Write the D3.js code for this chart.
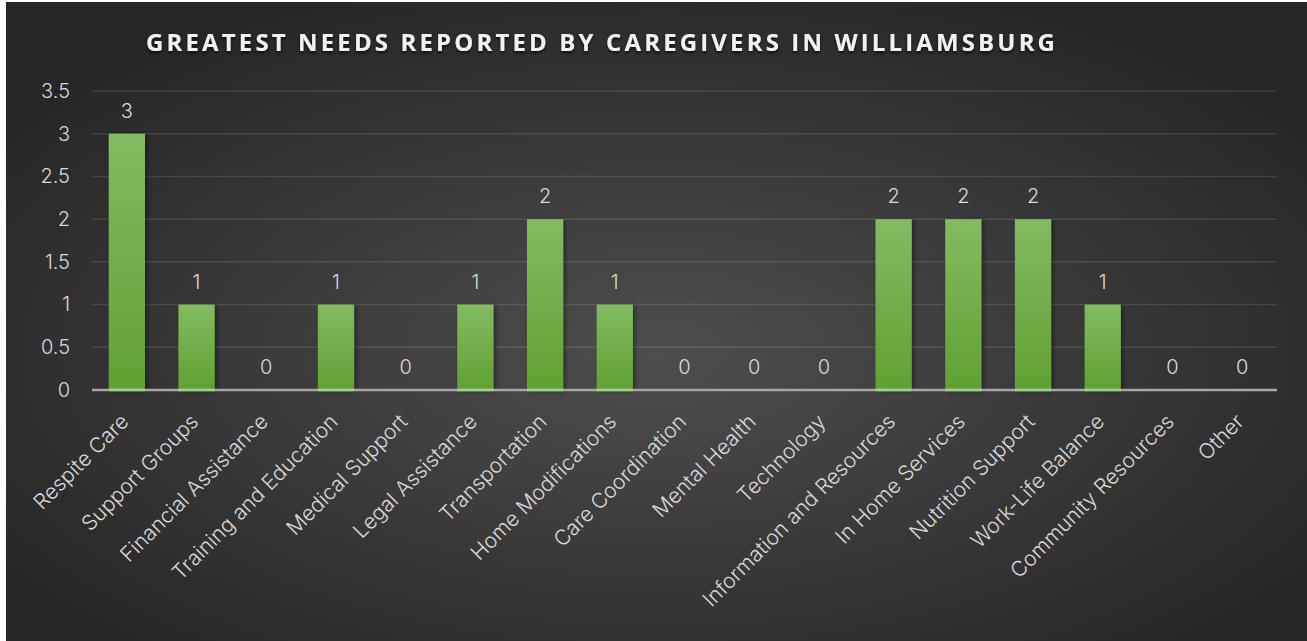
<!DOCTYPE html>
<html>
<head>
<meta charset="utf-8">
<script src="https://cdn.jsdelivr.net/npm/d3@7"></script>
<style>
  html, body { margin: 0; padding: 0; background: #fff; overflow: hidden; }
  svg { display: block; }
</style>
</head>
<body>
<script>
// data
const categories = ['Respite Care', 'Support Groups', 'Financial Assistance', 'Training and Education',
  'Medical Support', 'Legal Assistance', 'Transportation', 'Home Modifications', 'Care Coordination',
  'Mental Health', 'Technology', 'Information and Resources', 'In Home Services', 'Nutrition Support',
  'Work-Life Balance', 'Community Resources', 'Other']
const counts = [3, 1, 0, 1, 0, 1, 2, 1, 0, 0, 0, 2, 2, 2, 1, 0, 0]
const yTicks = [0, 0.5, 1, 1.5, 2, 2.5, 3, 3.5]
const title = 'GREATEST NEEDS REPORTED BY CAREGIVERS IN WILLIAMSBURG'

const dim = {width: 1307, height: 641}
const svg = d3.select('body').append('svg').attr('width', dim.width).attr('height', dim.height)

// chart box sits a little in from the left/top edge
const box = {x: 6, y: 2}
const margin = {top: 91, left: 92}
const plotW = 1277 - margin.left
const y0 = 390
const labelFont = 'Inter, Roboto, sans-serif'
const fs = 20

const defs = svg.append('defs')
const bg = defs.append('radialGradient').attr('id', 'bg')
  .attr('cx', '50%').attr('cy', '55%').attr('r', '62%')
bg.append('stop').attr('offset', '0%').attr('stop-color', '#4e4e4e')
bg.append('stop').attr('offset', '100%').attr('stop-color', '#262626')

const barGrad = defs.append('linearGradient').attr('id', 'barg')
  .attr('x1', 0).attr('y1', 0).attr('x2', 0).attr('y2', 1)
barGrad.append('stop').attr('offset', '0%').attr('stop-color', '#83bb61')
barGrad.append('stop').attr('offset', '100%').attr('stop-color', '#60a133')

const shadow = defs.append('filter').attr('id', 'shadow')
  .attr('x', '-30%').attr('y', '-10%').attr('width', '160%').attr('height', '130%')
shadow.append('feDropShadow').attr('dx', 2).attr('dy', 1).attr('stdDeviation', 2.5)
  .attr('flood-color', '#000').attr('flood-opacity', 0.45)

const tshadow = defs.append('filter').attr('id', 'tshadow')
  .attr('x', '-5%').attr('y', '-30%').attr('width', '110%').attr('height', '160%')
tshadow.append('feDropShadow').attr('dx', 0).attr('dy', 2).attr('stdDeviation', 1.8)
  .attr('flood-color', '#000').attr('flood-opacity', 0.7)

svg.append('rect').attr('x', box.x).attr('y', box.y)
  .attr('width', dim.width - box.x).attr('height', dim.height - box.y)
  .attr('fill', 'url(#bg)')

// title
svg.append('text')
  .attr('x', 146).attr('y', 51)
  .attr('textLength', 909).attr('lengthAdjust', 'spacing')
  .attr('font-family', 'Open Sans')
  .attr('font-weight', 700)
  .attr('font-size', 24)
  .attr('fill', '#f2f2f2')
  .attr('filter', 'url(#tshadow)')
  .text(title)

// scales
const x = d3.scaleBand().domain(categories).range([margin.left, margin.left + plotW])
  .paddingInner(0.48).paddingOuter(0.24)
const y = d3.scaleLinear().domain([0, 3.5]).range([y0, margin.top])

// gridlines
svg.append('g').selectAll('line').data(yTicks.filter(d => d > 0)).enter().append('line')
  .attr('x1', margin.left).attr('x2', margin.left + plotW)
  .attr('y1', d => y(d)).attr('y2', d => y(d))
  .attr('stroke', '#ffffff').attr('stroke-opacity', 0.11).attr('stroke-width', 1.5)

// y axis labels
const yAxis = d3.axisLeft(y).tickValues(yTicks).tickSize(0).tickPadding(22).tickFormat(d3.format('~g'))
const yg = svg.append('g').attr('transform', `translate(${margin.left},0)`).call(yAxis)
yg.select('.domain').remove()
yg.selectAll('text').attr('font-family', labelFont).attr('font-weight', 300)
  .attr('font-size', fs).attr('fill', '#d9d9d9')

// bars
svg.append('g').selectAll('rect').data(counts).enter().append('rect')
  .attr('x', (d, i) => x(categories[i]))
  .attr('y', d => y(d))
  .attr('width', x.bandwidth())
  .attr('height', d => y(0) - y(d))
  .attr('fill', 'url(#barg)')
  .attr('filter', 'url(#shadow)')

// zero line, lighter where the bars sit on it
svg.append('line')
  .attr('x1', margin.left).attr('x2', margin.left + plotW)
  .attr('y1', y(0)).attr('y2', y(0))
  .attr('stroke', '#a6a6a6').attr('stroke-width', 2.5)
svg.append('g').selectAll('rect').data(categories.filter((c, i) => counts[i] > 0)).enter().append('rect')
  .attr('x', d => x(d))
  .attr('y', y(0) - 1.25)
  .attr('width', x.bandwidth())
  .attr('height', 2.5)
  .attr('fill', '#a3cf86')

// value labels
svg.append('g').selectAll('text').data(counts).enter().append('text')
  .attr('x', (d, i) => x(categories[i]) + x.bandwidth() / 2)
  .attr('y', d => y(d) - 16)
  .attr('text-anchor', 'middle')
  .attr('font-family', labelFont).attr('font-weight', 300)
  .attr('font-size', fs).attr('fill', '#d9d9d9')
  .text(d => d)

// category labels
svg.append('g').selectAll('text').data(categories).enter().append('text')
  .attr('transform', d => `translate(${x(d) + x.bandwidth() / 2 + 3},${y0 + 33}) rotate(-45)`)
  .attr('text-anchor', 'end')
  .attr('font-family', labelFont).attr('font-weight', 300)
  .attr('font-size', 21).attr('fill', '#d9d9d9')
  .text(d => d)
</script>
</body>
</html>
